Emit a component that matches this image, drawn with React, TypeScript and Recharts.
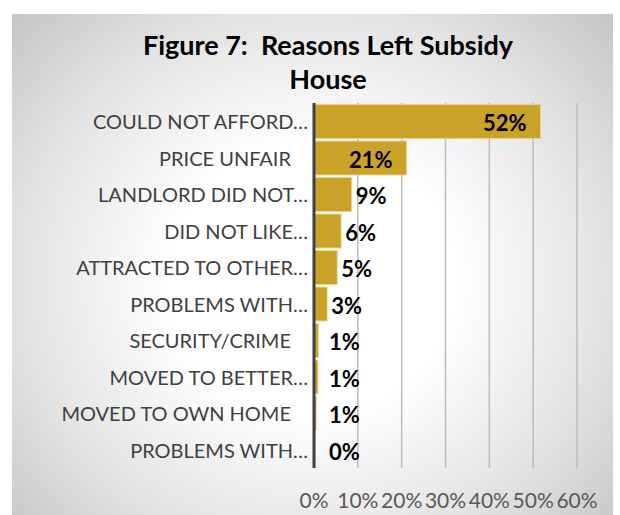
import React from 'react';
import { BarChart, Bar, XAxis, YAxis, CartesianGrid, LabelList } from 'recharts';

const categories = [
  'COULD NOT AFFORD…',
  'PRICE UNFAIR',
  'LANDLORD DID NOT…',
  'DID NOT LIKE…',
  'ATTRACTED TO OTHER…',
  'PROBLEMS WITH…',
  'SECURITY/CRIME',
  'MOVED TO BETTER…',
  'MOVED TO OWN HOME',
  'PROBLEMS WITH…',
];
const values = [51.7, 21.1, 8.6, 6.2, 5.3, 3.0, 1.0, 0.9, 0.5, 0];
const xTicks = [0, 10, 20, 30, 40, 50, 60];

const data = categories.map((c, i) => ({ id: i, name: c, value: values[i] }));

const FONT = 'Lato, "Open Sans", sans-serif';

const CatTick = (props: any) => {
  const { x, y, payload } = props;
  const label = categories[payload.value];
  const trunc = label.endsWith('…');
  return (
    <text
      x={x - (trunc ? 4 : 21)}
      y={y}
      textAnchor="end"
      dominantBaseline="central"
      fontFamily={FONT}
      fontSize={20}
      fill="#404040"
    >
      {label}
    </text>
  );
};

const XTick = (props: any) => {
  const { x, y, payload } = props;
  return (
    <text
      x={x}
      y={y + 29}
      textAnchor="middle"
      dominantBaseline="central"
      fontFamily={FONT}
      fontSize={21}
      fill="#595959"
    >
      {payload.value + '%'}
    </text>
  );
};

const ValueLabel = (props: any) => {
  const { x, y, width, height, value } = props;
  const inside = value >= 15;
  const tx = inside ? x + width - 14 : Math.max(x + width + 4, x + 15);
  return (
    <text
      x={tx}
      y={y + height / 2 + 1}
      textAnchor={inside ? 'end' : 'start'}
      dominantBaseline="central"
      fontFamily={FONT}
      fontWeight="bold"
      fontSize={22}
      fill="#000000"
    >
      {Math.round(value) + '%'}
    </text>
  );
};

export default function App() {
  return (
    <div style={{ position: 'absolute', left: 0, top: 0, width: 620, height: 515, background: '#ffffff' }}>
      <div
        style={{
          position: 'absolute',
          left: 12,
          top: 14,
          width: 601,
          height: 510,
          background: 'radial-gradient(ellipse 68% 75% at 50% 52%, #ffffff 35%, #e2e2e2 72%, #c6c6c6 100%)',
        }}
      />
      <div
        style={{
          position: 'absolute',
          left: 0,
          top: 28,
          width: 656,
          textAlign: 'center',
          fontFamily: FONT,
          fontWeight: 'bold',
          fontSize: 27,
          lineHeight: '34px',
          color: '#000000',
          whiteSpace: 'pre',
        }}
      >
        {'Figure 7:  Reasons Left Subsidy\nHouse'}
      </div>
      <div style={{ position: 'absolute', left: 0, top: 0 }}>
        <BarChart
          width={620}
          height={515}
          data={data}
          layout="vertical"
          margin={{ top: 103, right: 43, bottom: 7, left: 0 }}
          barCategoryGap={1.5}
        >
          <CartesianGrid horizontal={false} vertical={true} stroke="#bcbcbc" strokeWidth={1.5} />
          <XAxis
            type="number"
            domain={[0, 60]}
            ticks={xTicks}
            axisLine={false}
            tickLine={false}
            tickSize={0}
            height={40}
            tick={<XTick />}
            interval={0}
          />
          <YAxis
            type="category"
            dataKey="id"
            width={314}
            axisLine={{ stroke: '#404040', strokeWidth: 3 }}
            tickLine={false}
            tickSize={0}
            tick={<CatTick />}
            interval={0}
          />
          <Bar
            dataKey="value"
            fill="#C9A227"
            stroke="#E8D595"
            strokeWidth={1}
            minPointSize={1}
            isAnimationActive={false}
          >
            <LabelList dataKey="value" content={<ValueLabel />} />
          </Bar>
        </BarChart>
      </div>
    </div>
  );
}
